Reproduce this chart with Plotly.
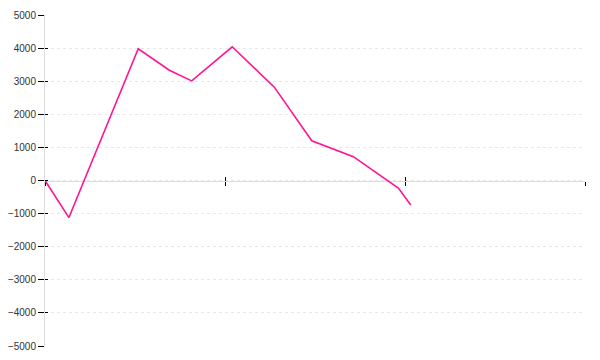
import plotly.graph_objects as go

# data (x in tick units, 0..3)
x_vals = [0, 0.133, 0.518, 0.691, 0.815, 1.040, 1.274, 1.482, 1.713, 1.963, 2.032]
y_vals = [0, -1120, 3980, 3330, 3010, 4040, 2820, 1200, 720, -230, -740]
y_ticks = [-5000, -4000, -3000, -2000, -1000, 0, 1000, 2000, 3000, 4000, 5000]
x_ticks = [0, 1, 2, 3]

fig = go.Figure()
fig.add_trace(go.Scatter(x=x_vals, y=y_vals, mode="lines",
                         line=dict(color="#ff1493", width=1.6), showlegend=False,
                         cliponaxis=False))
# invisible trace to activate second axes
fig.add_trace(go.Scatter(x=[x_vals[0]], y=[y_vals[0]], xaxis="x2", yaxis="y2",
                         mode="lines", line=dict(width=0), showlegend=False, hoverinfo="skip"))

fig.update_layout(
    width=600, height=360,
    margin=dict(l=45, r=15, t=15, b=14),
    paper_bgcolor="white", plot_bgcolor="white",
    font=dict(family="Liberation Sans, Arial, sans-serif", size=10, color="#333"),
    xaxis=dict(range=[0, 3], tickvals=x_ticks, ticktext=["", "", "", ""],
               showgrid=False, zeroline=False, showline=True, linecolor="#dddddd",
               linewidth=1, ticks="outside", ticklen=4, tickcolor="black", tickwidth=1,
               anchor="free", position=0.5, automargin=False, layer="below traces"),
    xaxis2=dict(range=[0, 3], tickvals=x_ticks, ticktext=["", "", "", ""],
                showgrid=False, zeroline=False, showline=False,
                ticks="inside", ticklen=4, tickcolor="black", tickwidth=1,
                anchor="free", position=0.5, overlaying="x", automargin=False),
    yaxis=dict(range=[-5000, 5000], tickvals=y_ticks, showgrid=True,
               gridcolor="#e8e8e8", griddash="dot", gridwidth=1,
               zeroline=False, showline=True, linecolor="#dddddd", linewidth=1,
               ticks="outside", ticklen=6, tickcolor="black", tickwidth=1,
               ticklabelstandoff=0, automargin=False, layer="below traces"),
    yaxis2=dict(range=[-5000, 5000], tickvals=y_ticks, showticklabels=False,
                showgrid=False, zeroline=False, showline=False,
                ticks="inside", ticklen=3, tickcolor="black", tickwidth=1,
                overlaying="y", side="left", anchor="x", automargin=False),
)

fig.write_html("out.html")
